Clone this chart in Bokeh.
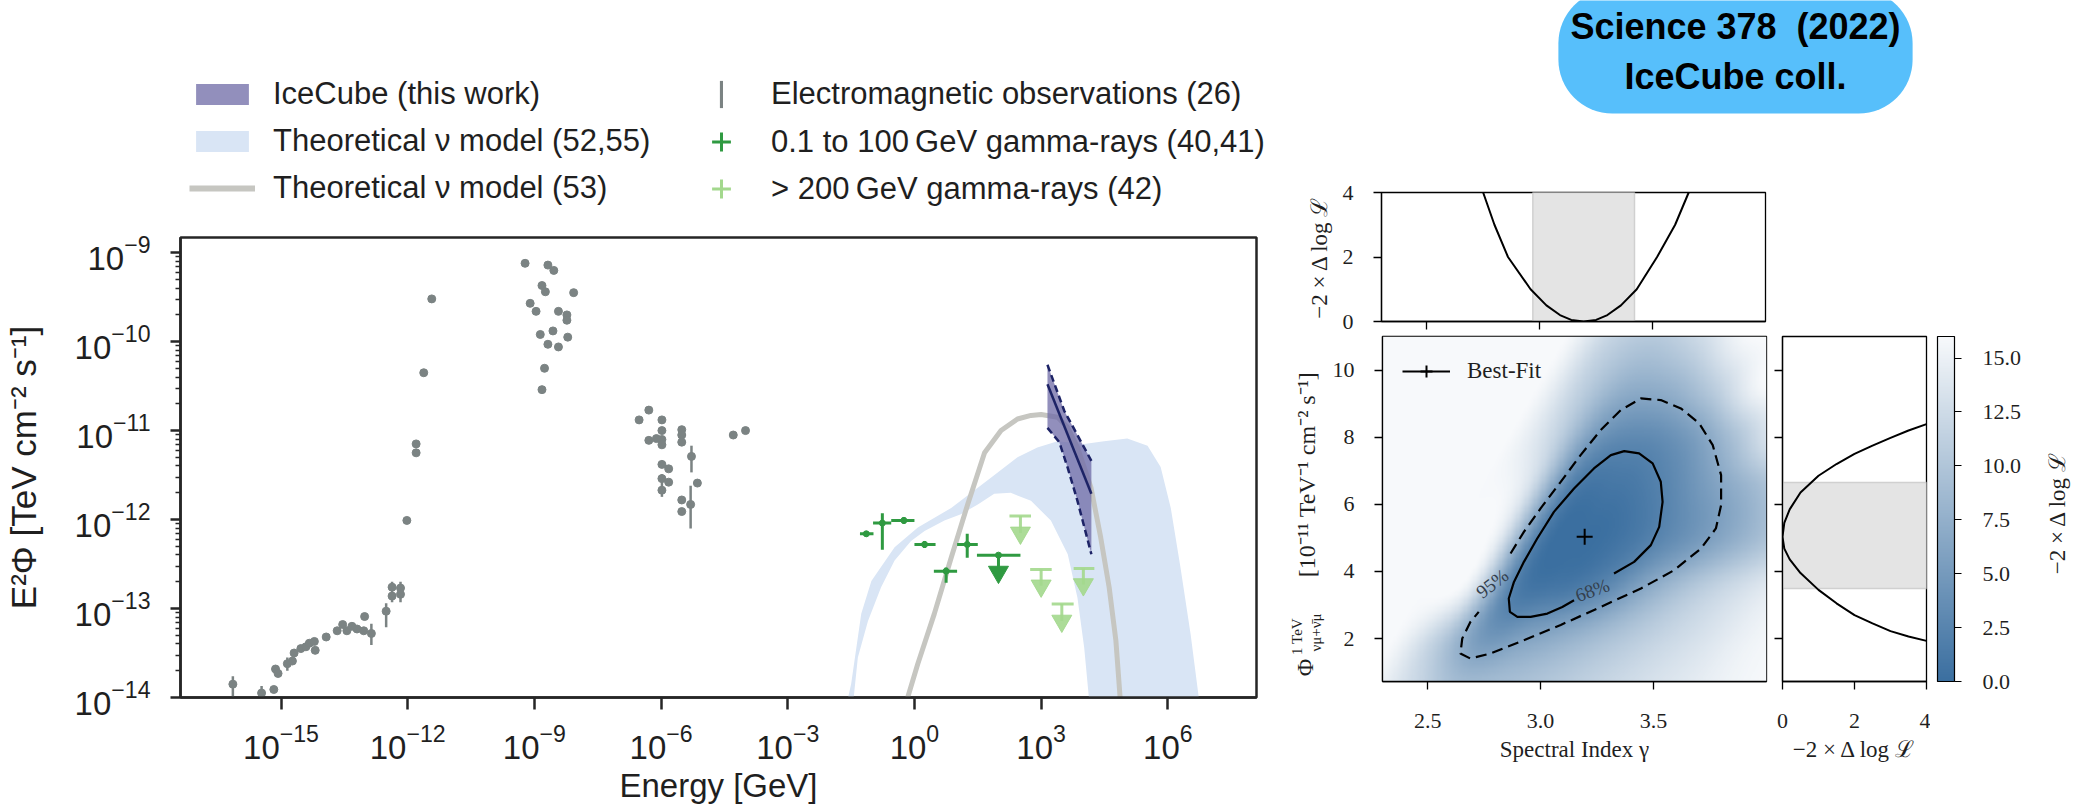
import numpy as np
from bokeh.plotting import figure
from bokeh.layouts import row, column
from bokeh.models import (Range1d, FixedTicker, LogTickFormatter, Legend, LegendItem, Label,
                          LinearColorMapper, ColorBar, PrintfTickFormatter)
from bokeh.embed import file_html
from bokeh.resources import INLINE

SANS = "Liberation Sans"
SERIF = "Liberation Serif"
INK = "#1f1f1f"

# ------------------------------------------------------------------ data (left panel, log10 values)
em_log_E = [-16.14, -15.46, -15.17, -15.13, -15.07, -14.85, -14.73, -14.69, -14.53, -14.41, -14.33, -14.21,
            -14.19, -13.93, -13.67, -13.54, -13.44, -13.32, -13.20, -13.04, -13.02, -12.86, -12.51, -12.37,
            -12.37, -12.17, -12.17,
            -12.02, -11.80, -11.80, -11.62, -11.43,
            -9.22, -8.68, -8.54, -8.82, -8.74, -8.07, -9.10, -8.96, -8.43, -8.23, -8.23, -8.86, -8.56, -8.21,
            -8.68, -8.43, -8.76, -8.82,
            -6.52, -6.29, -5.98, -5.98, -5.98, -6.29, -6.11, -5.98, -5.51, -5.51, -5.51, -5.28, -5.98, -5.82,
            -5.98, -5.82, -5.98, -5.14, -5.51, -5.30, -5.51,
            -4.29, -4.00]
em_log_F = [-13.85, -13.95, -13.91, -13.68, -13.73, -13.62, -13.59, -13.50, -13.45, -13.43, -13.39, -13.37,
            -13.47, -13.32, -13.25, -13.18, -13.25, -13.20, -13.23, -13.25, -13.09, -13.28, -13.03, -12.86,
            -12.76, -12.77, -12.84,
            -12.01, -11.15, -11.25, -10.35, -9.52,
            -9.12, -9.14, -9.20, -9.37, -9.44, -9.45, -9.57, -9.66, -9.66, -9.70, -9.76, -9.92, -9.88, -9.95,
            -10.03, -10.06, -10.30, -10.54,
            -10.88, -10.77, -10.88, -11.00, -11.10, -11.11, -11.09, -11.16, -10.99, -11.05, -11.13, -11.29,
            -11.38, -11.43, -11.54, -11.58, -11.67, -11.59, -11.78, -11.83, -11.91,
            -11.05, -11.00]
em_bar_log_E = [-16.14, -15.46, -14.85, -12.86, -12.51, -12.37, -12.17, -5.98, -5.28, -5.30]
em_bar_log_lo = [-14.10, -14.05, -13.70, -13.41, -13.21, -12.93, -12.93, -11.745, -11.47, -12.10]
em_bar_log_hi = [-13.76, -13.87, -13.55, -13.17, -12.94, -12.70, -12.70, -11.49, -11.17, -11.62]

fermi_log_E = [-1.14, -0.76, -0.25, 0.24, 0.75, 1.25]
fermi_log_E_lo = [-1.29, -0.98, -0.55, 0.00, 0.46, 1.01]
fermi_log_E_hi = [-0.97, -0.55, 0.00, 0.50, 1.01, 1.50]
fermi_log_F = [-12.16, -12.04, -12.01, -12.28, -12.58, -12.28]
fermi_log_F_lo = [-12.19, -12.34, -12.05, -12.32, -12.71, -12.43]
fermi_log_F_hi = [-12.13, -11.93, -11.97, -12.24, -12.54, -12.16]
fermi_ul_log_E = [1.99]
fermi_ul_log_E_lo = [1.48]
fermi_ul_log_E_hi = [2.51]
fermi_ul_log_F = [-12.40]
fermi_ul_log_arrow = [-12.59]

vhe_ul_log_E = [2.51, 3.00, 3.49, 4.00]
vhe_ul_log_E_lo = [2.25, 2.74, 3.25, 3.77]
vhe_ul_log_E_hi = [2.76, 3.25, 3.77, 4.26]
vhe_ul_log_F = [-11.96, -12.56, -12.95, -12.55]
vhe_ul_log_arrow = [-12.15, -12.745, -13.14, -12.73]

ice_up_log_E = [3.15, 3.55, 4.19]
ice_up_log_F = [-10.26, -10.78, -11.34]
ice_mid_log_E = [3.15, 4.19]
ice_mid_log_F = [-10.48, -11.71]
ice_lo_log_E = [3.15, 3.43, 3.63, 3.86, 4.19]
ice_lo_log_F = [-10.97, -11.13, -11.42, -11.79, -12.39]

m53_log_E = [-0.16, 0.08, 0.47, 0.87, 1.26, 1.66, 2.05, 2.44, 2.76, 3.00, 3.39, 3.62, 3.86, 4.18, 4.41,
             4.61, 4.77, 4.87]
m53_log_F = [-14.0, -13.62, -13.06, -12.43, -11.83, -11.25, -11.00, -10.87, -10.83, -10.82, -10.85, -10.96,
             -11.19, -11.64, -12.20, -12.76, -13.36, -14.0]

band_up_log_E = [-1.62, -1.50, -1.26, -1.02, -0.47, 0.08, 0.87, 1.81, 2.44, 2.91, 3.39, 4.02, 4.49, 5.04,
                 5.52, 5.83, 6.07, 6.30, 6.54, 6.76]
band_up_log_F = [-14.1, -13.85, -13.06, -12.69, -12.31, -12.09, -11.87, -11.53, -11.30, -11.19, -11.12,
                 -11.15, -11.12, -11.09, -11.17, -11.41, -11.87, -12.54, -13.29, -14.1]
band_lo_log_E = [-1.46, -1.34, -1.10, -0.79, -0.47, -0.08, 0.24, 0.71, 1.10, 1.50, 1.89, 2.28, 2.76, 3.23,
                 3.63, 3.86, 4.02, 4.15]
band_lo_log_F = [-14.1, -13.55, -13.14, -12.76, -12.46, -12.24, -12.13, -12.01, -11.94, -11.83, -11.71,
                 -11.70, -11.79, -12.01, -12.39, -12.88, -13.44, -14.1]

x_tick_exponents = [-15, -12, -9, -6, -3, 0, 3, 6]
y_tick_exponents = [-14, -13, -12, -11, -10, -9]

# ------------------------------------------------------------------ data (right panels)
best_gamma = [3.195]
best_phi = [5.03]
c68_gamma = [3.325, 3.414, 3.488, 3.525, 3.540, 3.532, 3.496, 3.436, 3.370, 3.311, 3.236, 3.148, 3.059,
             2.985, 2.926, 2.882, 2.859, 2.864, 2.897, 2.956, 3.030, 3.096, 3.148]
c68_phi = [3.94, 4.285, 4.783, 5.328, 6.075, 6.670, 7.218, 7.516, 7.585, 7.466, 7.069, 6.473, 5.775, 4.982,
           4.285, 3.688, 3.193, 2.794, 2.645, 2.645, 2.744, 2.942, 3.14]
c95_gamma = [2.867, 2.926, 3.000, 3.089, 3.177, 3.266, 3.355, 3.444, 3.532, 3.621, 3.702, 3.762, 3.799,
             3.799, 3.776, 3.710, 3.591, 3.444, 3.266, 3.089, 2.911, 2.778, 2.689, 2.645, 2.653, 2.689, 2.726]
c95_phi = [4.534, 5.18, 5.877, 6.67, 7.466, 8.211, 8.807, 9.155, 9.106, 8.857, 8.411, 7.764, 6.869, 5.975,
           5.28, 4.684, 4.037, 3.49, 2.942, 2.405, 1.908, 1.553, 1.404, 1.553, 2.0, 2.494, 2.794]

# -2 dlogL surface read on a grid that follows the tilt of the valley:
# columns are s = gamma - tilt * (phi - phi_pivot), rows are phi
grid_tilt = 0.085
grid_phi_pivot = 5.0
grid_s = [1.6, 1.8, 2.0, 2.2, 2.4, 2.6, 2.8, 3.0, 3.2, 3.4, 3.6, 3.8, 4.0, 4.2, 4.4]
grid_phi = [0.5, 2.0, 3.5, 5.0, 6.5, 8.0, 9.5, 11.0, 12.5]
ts_grid = [
    [16, 16, 16, 16, 16, 16, 12.5, 9.2, 9.3, 10.3, 11.6, 12.9, 14.1, 15.3, 16],
    [16, 16, 16, 16, 16, 16, 11.3, 4.9, 6.1, 7.9, 10.0, 11.9, 13.6, 15.3, 16],
    [16, 16, 16, 16, 16, 16, 15.0, 2.3, 1.0, 2.8, 6.8, 10.2, 12.7, 14.8, 16],
    [16, 16, 16, 16, 16, 16, 15.0, 1.5, 0.0, 1.1, 3.6, 6.4, 9.6, 12.8, 15.5],
    [16, 16, 16, 16, 16, 16, 14.0, 2.1, 0.9, 2.2, 5.2, 8.3, 11.8, 15.0, 16],
    [16, 16, 16, 16, 16, 16, 12.0, 4.5, 3.1, 5.0, 9.4, 14.4, 16, 16, 16],
    [16, 16, 16, 16, 16, 16, 11.3, 7.5, 7.8, 11.2, 15.8, 16, 16, 16, 16],
    [16, 16, 16, 16, 16, 16, 11.8, 10.5, 12.5, 15.8, 16, 16, 16, 16, 16],
    [16, 16, 16, 16, 16, 16, 14.0, 13.8, 15.5, 16, 16, 16, 16, 16, 16],
]

prof_gamma = [2.75, 2.80, 2.86, 2.96, 3.03, 3.09, 3.14, 3.195, 3.25, 3.30, 3.36, 3.43, 3.52, 3.60, 3.66]
prof_gamma_ts = [4.0, 3.0, 2.0, 1.0, 0.5, 0.2, 0.05, 0.0, 0.05, 0.2, 0.5, 1.0, 2.0, 3.0, 4.0]
gamma_1sigma = [2.97, 3.42]

prof_phi = [1.93, 2.06, 2.22, 2.45, 2.70, 3.05, 3.45, 3.95, 4.36, 4.68, 5.03, 5.45, 5.85, 6.35, 6.85, 7.20,
            7.50, 7.75, 7.98, 8.20, 8.39]
prof_phi_ts = [4.0, 3.5, 3.0, 2.5, 2.0, 1.5, 1.0, 0.5, 0.2, 0.05, 0.0, 0.05, 0.2, 0.5, 1.0, 1.5, 2.0, 2.5,
               3.0, 3.5, 4.0]
phi_1sigma = [3.49, 6.65]

main_x_ticks = [2.5, 3.0, 3.5]
main_y_ticks = [2, 4, 6, 8, 10]
ts_axis_ticks = [0, 2, 4]
cbar_ticks = [0.0, 2.5, 5.0, 7.5, 10.0, 12.5, 15.0]


def p10(vals):
    return [10.0 ** v for v in vals]


nan = float("nan")


def blank_fig(w, h):
    f = figure(width=w, height=h, x_range=Range1d(0, 1), y_range=Range1d(0, 1),
               x_axis_location=None, y_axis_location=None, min_border=0,
               min_border_left=0, min_border_right=0, min_border_top=0, min_border_bottom=0,
               frame_align=False, output_backend="svg", toolbar_location=None)
    f.grid.visible = False
    f.outline_line_color = None
    return f


# ------------------------------------------------------------------ left figure
left = figure(width=1290, height=578, x_axis_type="log", y_axis_type="log",
              x_range=Range1d(10 ** -17.38, 10 ** 8.10), y_range=Range1d(1e-14, 10 ** -8.83),
              min_border_left=178, min_border_right=34, min_border_top=5, min_border_bottom=113,
              frame_align=False, output_backend="svg", toolbar_location=None)
left.grid.visible = False
left.outline_line_color = "#262626"
left.outline_line_width = 2.5
left.outline_line_alpha = 1.0

BAND_COL = "#d9e5f5"
M53_COL = "#c6c6c1"
ICE_FILL = "#6e69a6"
ICE_LINE = "#1d2366"
EM_COL = "#7b8383"
DG = "#2f9a41"
LG = "#a3d88d"

band_x = p10(band_up_log_E + band_lo_log_E[::-1])
band_y = p10(band_up_log_F + band_lo_log_F[::-1])
left.patch(band_x, band_y, fill_color=BAND_COL, line_color=None)
left.line(p10(m53_log_E), p10(m53_log_F), line_color=M53_COL, line_width=5)

ice_x = p10(ice_up_log_E + ice_lo_log_E[::-1])
ice_y = p10(ice_up_log_F + ice_lo_log_F[::-1])
left.patch(ice_x, ice_y, fill_color=ICE_FILL, fill_alpha=0.75, line_color=None)
left.line(p10(ice_up_log_E), p10(ice_up_log_F), line_color=ICE_LINE, line_width=2.5, line_dash="7 4")
left.line(p10(ice_lo_log_E), p10(ice_lo_log_F), line_color=ICE_LINE, line_width=2.5, line_dash="7 4")
left.line(p10(ice_mid_log_E), p10(ice_mid_log_F), line_color=ICE_LINE, line_width=2.5)

left.segment(x0=p10(em_bar_log_E), y0=p10(em_bar_log_lo), x1=p10(em_bar_log_E), y1=p10(em_bar_log_hi),
             line_color=EM_COL, line_width=2.5)
left.scatter(p10(em_log_E), p10(em_log_F), size=8, fill_color=EM_COL, line_color=EM_COL)

left.segment(x0=p10(fermi_log_E_lo), y0=p10(fermi_log_F), x1=p10(fermi_log_E_hi), y1=p10(fermi_log_F),
             line_color=DG, line_width=3)
left.segment(x0=p10(fermi_log_E), y0=p10(fermi_log_F_lo), x1=p10(fermi_log_E), y1=p10(fermi_log_F_hi),
             line_color=DG, line_width=3)
left.scatter(p10(fermi_log_E), p10(fermi_log_F), size=6, color=DG)
left.segment(x0=p10(fermi_ul_log_E_lo), y0=p10(fermi_ul_log_F), x1=p10(fermi_ul_log_E_hi),
             y1=p10(fermi_ul_log_F), line_color=DG, line_width=3)
left.segment(x0=p10(fermi_ul_log_E), y0=p10(fermi_ul_log_F), x1=p10(fermi_ul_log_E),
             y1=p10(fermi_ul_log_arrow), line_color=DG, line_width=3)
left.scatter(p10(fermi_ul_log_E), p10(fermi_ul_log_F), size=6, color=DG)
left.scatter(p10(fermi_ul_log_E), p10(fermi_ul_log_arrow), marker="inverted_triangle", size=20, color=DG)

left.segment(x0=p10(vhe_ul_log_E_lo), y0=p10(vhe_ul_log_F), x1=p10(vhe_ul_log_E_hi), y1=p10(vhe_ul_log_F),
             line_color=LG, line_width=3, line_alpha=0.9)
left.segment(x0=p10(vhe_ul_log_E), y0=p10(vhe_ul_log_F), x1=p10(vhe_ul_log_E), y1=p10(vhe_ul_log_arrow),
             line_color=LG, line_width=3, line_alpha=0.9)
left.scatter(p10(vhe_ul_log_E), p10(vhe_ul_log_arrow), marker="inverted_triangle", size=20, color=LG,
             alpha=0.9)

left.xaxis.ticker = FixedTicker(ticks=[10.0 ** e for e in x_tick_exponents], minor_ticks=[])
left.yaxis.ticker = FixedTicker(ticks=[10.0 ** e for e in y_tick_exponents],
                                minor_ticks=[m * 10.0 ** e for e in y_tick_exponents[:-1] for m in range(2, 10)])
left.xaxis.formatter = LogTickFormatter()
left.yaxis.formatter = LogTickFormatter()
for ax in (left.xaxis[0], left.yaxis[0]):
    ax.axis_line_color = "#262626"
    ax.axis_line_width = 2.5
    ax.major_tick_line_color = "#262626"
    ax.major_tick_line_width = 2.5
    ax.major_tick_in = 0
    ax.minor_tick_in = 0
    ax.minor_tick_line_color = "#262626"
    ax.minor_tick_line_width = 1.5
    ax.major_label_text_font = SANS
    ax.major_label_text_font_size = "33px"
    ax.major_label_text_color = INK
    ax.axis_label_text_font = SANS
    ax.axis_label_text_font_size = "33px"
    ax.axis_label_text_font_style = "normal"
    ax.axis_label_text_color = INK
left.xaxis.major_tick_out = 12
left.xaxis.minor_tick_out = 0
left.yaxis.major_tick_out = 10
left.yaxis.minor_tick_out = 5
left.xaxis.major_label_standoff = 14
left.yaxis.major_label_standoff = 20
left.xaxis.axis_label = "Energy [GeV]"
left.yaxis.axis_label = "E²Φ [TeV cm⁻² s⁻¹]"
left.yaxis.axis_label_text_font_size = "35px"
left.xaxis.axis_label_standoff = 5
left.yaxis.axis_label_standoff = 29

# legend strip above the left panel (proxies carry the same styles as the plotted marks)
legfig = blank_fig(1290, 232)
px_ice = legfig.patch([nan, nan, nan], [nan, nan, nan], fill_color=ICE_FILL, fill_alpha=0.75, line_color=None)
px_band = legfig.patch([nan, nan, nan], [nan, nan, nan], fill_color=BAND_COL, line_color=None)
px_m53 = legfig.line([nan], [nan], line_color=M53_COL, line_width=6)
px_em_bar = legfig.quad(left=[nan], right=[nan], bottom=[nan], top=[nan], fill_color=EM_COL, line_color=None)
px_fermi = legfig.scatter([nan], [nan], marker="cross", size=20, line_color=DG, line_width=3)
px_vhe = legfig.scatter([nan], [nan], marker="cross", size=20, line_color=LG, line_width=3)

leg_kw = dict(padding=0, margin=0, label_text_font=SANS, label_text_font_size="31px", label_text_color=INK,
              border_line_alpha=0, background_fill_alpha=0, label_height=36)
leg_a = Legend(items=[LegendItem(label="IceCube (this work)", renderers=[px_ice]),
                      LegendItem(label="Theoretical ν model (52,55)", renderers=[px_band]),
                      LegendItem(label="Theoretical ν model (53)", renderers=[px_m53])],
               location=(189, 26), glyph_width=66, glyph_height=26, label_standoff=18, spacing=11, **leg_kw)
leg_em = Legend(items=[LegendItem(label="Electromagnetic observations (26)", renderers=[px_em_bar])],
                location=(719, 120), glyph_width=4, glyph_height=34, label_standoff=48, spacing=0, **leg_kw)
leg_g = Legend(items=[LegendItem(label="0.1 to 100\u2009GeV gamma-rays (40,41)", renderers=[px_fermi]),
                      LegendItem(label="> 200\u2009GeV gamma-rays (42)", renderers=[px_vhe])],
               location=(696, 20), glyph_width=50, glyph_height=47, label_standoff=25, spacing=0, **leg_kw)
legfig.add_layout(leg_a)
legfig.add_layout(leg_em)
legfig.add_layout(leg_g)

# ------------------------------------------------------------------ right panels
xr = Range1d(2.3, 4.0)
yr = Range1d(0.72, 11.0)


def style_serif(fig, label_size="22px"):
    fig.grid.visible = False
    fig.outline_line_color = "black"
    fig.outline_line_width = 1.3
    fig.outline_line_alpha = 1.0
    for ax in list(fig.xaxis) + list(fig.yaxis):
        ax.axis_line_color = "black"
        ax.axis_line_width = 1.3
        ax.major_tick_line_color = "black"
        ax.major_tick_line_width = 1.3
        ax.major_tick_in = 0
        ax.major_tick_out = 8
        ax.minor_tick_out = 0
        ax.minor_tick_in = 0
        ax.major_label_text_font = SERIF
        ax.major_label_text_font_size = label_size
        ax.major_label_text_color = INK
        ax.axis_label_text_font = SERIF
        ax.axis_label_text_font_size = "23px"
        ax.axis_label_text_font_style = "normal"
        ax.axis_label_text_color = INK


badgefig = blank_fig(795, 150)
badgefig.add_layout(Label(x=445, y=99, x_units="screen", y_units="screen",
                          text="Science 378\u00a0\u00a0(2022)\nIceCube coll.", text_align="center",
                          text_baseline="middle", text_font=SANS, text_font_style="bold",
                          text_font_size="36px", text_color="black",
                          background_fill_color="#57bffb", border_radius=54,
                          padding=dict(left=12, right=12, top=17, bottom=17)))

# top profile panel
top = figure(width=795, height=184, x_range=xr, y_range=Range1d(0, 4),
             min_border_left=91, min_border_right=320, min_border_top=42, min_border_bottom=13,
             frame_align=False, output_backend="svg", toolbar_location=None)
top.quad(left=[gamma_1sigma[0]], right=[gamma_1sigma[1]], bottom=[0], top=[4],
         fill_color="#e4e4e4", line_color="#d0d0d0", line_width=1.5)
top.line(prof_gamma, prof_gamma_ts, line_color="black", line_width=2)
style_serif(top)
top.xaxis.ticker = FixedTicker(ticks=main_x_ticks)
top.xaxis.major_label_overrides = {t: "" for t in main_x_ticks}
top.xaxis.major_label_standoff = 0
top.yaxis.ticker = FixedTicker(ticks=ts_axis_ticks)
top.yaxis.major_label_standoff = 20
top.yaxis.axis_label = "−2 × Δ log ℒ"
top.yaxis.axis_label_standoff = 8

ROW_H = 476

# composite rotated y label of the 2D panel
ylabfig = blank_fig(36, ROW_H)
for txt, sx, sy, fs in [("Φ", 14, 143, "24px"), ("1 TeV", 6, 174, "15px"), ("νμ+ν̄μ", 25, 178, "15px"),
                        ("[10⁻¹¹ TeV⁻¹ cm⁻² s⁻¹]", 16, 336, "24px")]:
    ylabfig.add_layout(Label(x=sx, y=sy, x_units="screen", y_units="screen", text=txt, angle=90,
                             angle_units="deg", text_align="center", text_baseline="middle",
                             text_font=SERIF, text_font_size=fs, text_color=INK))

# main 2D likelihood panel
main = figure(width=445, height=ROW_H, x_range=xr, y_range=yr,
              min_border_left=56, min_border_right=5, min_border_top=2, min_border_bottom=129,
              frame_align=False, output_backend="svg", toolbar_location=None)

c0 = np.array([59, 111, 160], dtype=float)
c1 = np.array([247, 249, 251], dtype=float)
ts_palette = ["#%02x%02x%02x" % tuple(int(round(v)) for v in (c0 + (c1 - c0) * k / 255.0)) for k in range(256)]
mapper = LinearColorMapper(palette=ts_palette, low=0, high=16)


def _cr_weights(t):
    t2 = t * t
    t3 = t2 * t
    return [(-t3 + 2 * t2 - t) / 2, (3 * t3 - 5 * t2 + 2) / 2, (-3 * t3 + 4 * t2 + t) / 2, (t3 - t2) / 2]


def _sample_grid(grid, fi, fj):
    g = np.asarray(grid, dtype=float)
    nr, nc = g.shape
    fi = np.clip(fi, 0, nr - 1)
    fj = np.clip(fj, 0, nc - 1)
    i0 = np.clip(np.floor(fi).astype(int), 0, nr - 2)
    j0 = np.clip(np.floor(fj).astype(int), 0, nc - 2)
    wi = _cr_weights(fi - i0)
    wj = _cr_weights(fj - j0)
    out = np.zeros_like(fi)
    for a in range(4):
        ii = np.clip(i0 + a - 1, 0, nr - 1)
        for b in range(4):
            jj = np.clip(j0 + b - 1, 0, nc - 1)
            out += wi[a] * wj[b] * g[ii, jj]
    return out


nx_img, ny_img = 340, 300
gx = np.linspace(xr.start, xr.end, nx_img)
gy = np.linspace(yr.start, yr.end, ny_img)
GX, GY = np.meshgrid(gx, gy)
S = GX - grid_tilt * (GY - grid_phi_pivot)
fi = (GY - grid_phi[0]) / (grid_phi[1] - grid_phi[0])
fj = (S - grid_s[0]) / (grid_s[1] - grid_s[0])
ts_img = np.clip(_sample_grid(ts_grid, fi, fj), 0, 16)
main.image(image=[ts_img], x=xr.start, y=yr.start, dw=xr.end - xr.start, dh=yr.end - yr.start,
           color_mapper=mapper)

main.line(c68_gamma, c68_phi, line_color="black", line_width=2.2)
main.line(c95_gamma, c95_phi, line_color="black", line_width=2.2, line_dash="11 6")
main.add_layout(Label(x=2.786, y=3.64, text="95%", angle=38, angle_units="deg", text_align="center",
                      text_baseline="middle", text_font=SERIF, text_font_size="19px", text_color="#34404d"))
main.add_layout(Label(x=3.229, y=3.44, text="68%", angle=20, angle_units="deg", text_align="center",
                      text_baseline="middle", text_font=SERIF, text_font_size="19px", text_color="#34404d"))

bf_line = main.line([nan], [nan], line_color="black", line_width=2)
bf = main.scatter(best_gamma, best_phi, marker="cross", size=16, line_color="black", line_width=2)
leg_bf = Legend(items=[LegendItem(label="Best-Fit", renderers=[bf_line, bf])], location="top_left",
                glyph_width=48, glyph_height=30, label_standoff=17, padding=4, margin=16,
                label_text_font=SERIF, label_text_font_size="23px", label_text_color=INK,
                border_line_alpha=0, background_fill_alpha=0)
main.add_layout(leg_bf)

style_serif(main)
main.xaxis.ticker = FixedTicker(ticks=main_x_ticks)
main.xaxis.formatter = PrintfTickFormatter(format="%.1f")
main.yaxis.ticker = FixedTicker(ticks=main_y_ticks)
main.xaxis.major_label_standoff = 24
main.yaxis.major_label_standoff = 20
main.xaxis.axis_label = "Spectral Index γ"
main.xaxis.axis_label_standoff = 6

# side profile panel
side = figure(width=159, height=ROW_H, x_range=Range1d(0, 4), y_range=yr,
              min_border_left=11, min_border_right=4, min_border_top=2, min_border_bottom=129,
              frame_align=False, output_backend="svg", toolbar_location=None)
side.quad(left=[0], right=[4], bottom=[phi_1sigma[0]], top=[phi_1sigma[1]],
          fill_color="#e4e4e4", line_color="#d0d0d0", line_width=1.5)
side.line(prof_phi_ts, prof_phi, line_color="black", line_width=2)
style_serif(side)
side.xaxis.ticker = FixedTicker(ticks=ts_axis_ticks)
side.xaxis.major_label_standoff = 24
side.xaxis.axis_label = "−2 × Δ log ℒ"
side.xaxis.axis_label_standoff = 6
side.yaxis.ticker = FixedTicker(ticks=main_y_ticks)
side.yaxis.major_label_overrides = {t: "" for t in main_y_ticks}
side.yaxis.major_label_standoff = 0

# colour bar strip
cbfig = blank_fig(155, ROW_H)
cbar = ColorBar(color_mapper=mapper, ticker=FixedTicker(ticks=cbar_ticks),
                formatter=PrintfTickFormatter(format="%.1f"), width=17, height=345, location=(7, 129),
                padding=0, margin=0, bar_line_color="black", bar_line_width=1.2,
                major_tick_out=7, major_tick_in=0, major_tick_line_color="black", major_tick_line_width=1.2,
                label_standoff=21, major_label_text_font=SERIF, major_label_text_font_size="22px",
                major_label_text_color=INK, background_fill_alpha=0, border_line_alpha=0)
cbfig.add_layout(cbar)
cbfig.add_layout(Label(x=127, y=298, x_units="screen", y_units="screen", text="−2 × Δ log ℒ", angle=90,
                       angle_units="deg", text_align="center", text_baseline="middle",
                       text_font=SERIF, text_font_size="23px", text_color=INK))

layout = row(column(legfig, left),
             column(badgefig, top, row(ylabfig, main, side, cbfig)))
open("out.html", "w").write(file_html(layout, INLINE, title="IceCube NGC 1068"))
